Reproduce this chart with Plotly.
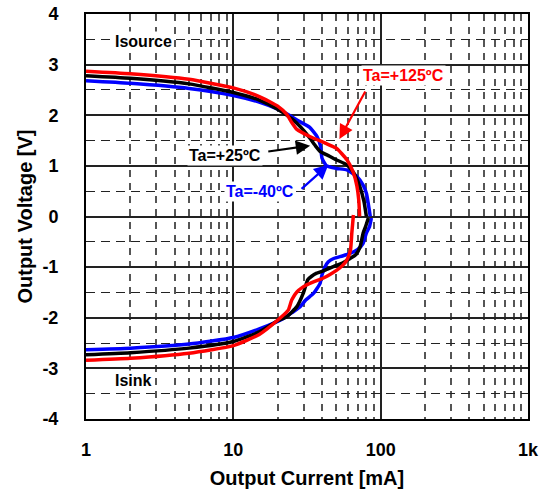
import plotly.graph_objects as go

# ---- data (Output current [mA] vs output voltage [V]) ----
src_red_i = [1, 2, 5, 10, 15, 20, 23, 25, 27, 33, 42, 50, 59, 65, 69, 71, 72]
src_red_v = [2.87, 2.82, 2.71, 2.54, 2.37, 2.18, 2.02, 1.85, 1.72, 1.58, 1.45, 1.35, 1.12, 0.88, 0.60, 0.33, 0.0]
snk_red_i = [65.3, 64.5, 63.7, 62.4, 58.9, 55, 50.4, 45, 40.6, 35, 31.5, 27, 24.9, 23.6, 20.7, 15, 10, 5, 2, 1]
snk_red_v = [0.03, -0.15, -0.33, -0.66, -0.86, -0.97, -1.06, -1.15, -1.22, -1.29, -1.35, -1.49, -1.65, -1.85, -2.01, -2.33, -2.55, -2.70, -2.80, -2.84]

src_blk_i = [1, 2, 5, 10, 15, 20, 22, 25, 27, 30, 33, 36, 39, 45, 50, 59, 66, 72, 77, 80]
src_blk_v = [2.78, 2.73, 2.62, 2.45, 2.30, 2.12, 2.04, 1.93, 1.84, 1.70, 1.55, 1.40, 1.28, 1.19, 1.12, 1.02, 0.85, 0.60, 0.30, 0.0]
snk_blk_i = [82.5, 79, 76, 72.5, 68, 62, 55, 47.7, 42, 36.8, 34, 32, 29.8, 27, 23, 20, 15, 10, 5, 2, 1]
snk_blk_v = [-0.03, -0.2, -0.33, -0.6, -0.75, -0.83, -0.92, -0.99, -1.06, -1.12, -1.18, -1.25, -1.52, -1.78, -1.98, -2.06, -2.28, -2.47, -2.60, -2.69, -2.73]

src_blu_i = [1, 2, 5, 10, 15, 20, 23, 28, 33, 37, 39, 40, 43, 50, 59, 69, 76, 80, 85]
src_blu_v = [2.68, 2.63, 2.53, 2.39, 2.26, 2.12, 2.03, 1.88, 1.76, 1.58, 1.40, 1.15, 1.0, 0.95, 0.92, 0.79, 0.62, 0.46, 0.0]
snk_blu_i = [86.5, 84, 80, 76, 70, 62, 55, 48, 44, 42, 40, 38.8, 35, 31, 28.4, 25, 22, 20, 15, 10, 5, 2, 1]
snk_blu_v = [-0.03, -0.2, -0.33, -0.53, -0.65, -0.73, -0.78, -0.83, -0.9, -0.99, -1.15, -1.32, -1.52, -1.65, -1.78, -1.9, -2.01, -2.07, -2.22, -2.39, -2.52, -2.60, -2.63]

x_tickvals = [1, 10, 100, 1000]
x_ticktext = ["1", "10", "100", "1k"]
y_tickvals = [-4, -3, -2, -1, 0, 1, 2, 3, 4]
y_ticktext = ["-4", "-3", "-2", "-1", "0", "1", "2", "3", "4"]

FONT = "Liberation Sans, Arial, sans-serif"
RED, BLK, BLU = "#FF0000", "#000000", "#0000FF"

fig = go.Figure()
series = [
    (src_blu_i, src_blu_v, BLU), (snk_blu_i, snk_blu_v, BLU),
    (src_blk_i, src_blk_v, BLK), (snk_blk_i, snk_blk_v, BLK),
    (src_red_i, src_red_v, RED), (snk_red_i, snk_red_v, RED),
]
for xi, yv, c in series:
    fig.add_trace(go.Scatter(x=xi, y=yv, mode="lines", line=dict(color=c, width=3.5, shape="spline", smoothing=0.5),
                             showlegend=False, hoverinfo="skip"))

fig.update_layout(
    width=547, height=496,
    margin=dict(l=86, r=19, t=14, b=77, autoexpand=False),
    paper_bgcolor="white", plot_bgcolor="white",
    font=dict(family=FONT, color="black", size=18, weight="bold"),
    showlegend=False,
)
fig.update_xaxes(
    type="log", range=[0, 3], automargin=False,
    tickvals=x_tickvals, ticktext=x_ticktext,
    tickfont=dict(size=18, family=FONT, weight="bold"),
    ticks="", ticklabelstandoff=13,
    showgrid=True, gridcolor="#222", gridwidth=1.5,
    minor=dict(dtick="D1", showgrid=True, gridcolor="#555", gridwidth=1.5, griddash="7px,6px", ticks=""),
    showline=True, linecolor="black", linewidth=2, mirror=True,
    title=dict(text="Output Current [mA]", font=dict(size=20, family=FONT, weight="bold"), standoff=12),
    zeroline=False,
)
fig.update_yaxes(
    range=[-4, 4], tickvals=y_tickvals, ticktext=y_ticktext, automargin=False,
    tickfont=dict(size=18, family=FONT, weight="bold"),
    ticks="", ticklabelstandoff=22,
    showgrid=True, gridcolor="#222", gridwidth=1.5,
    minor=dict(dtick=0.5, showgrid=True, gridcolor="#222", gridwidth=1, griddash="9px,6px", ticks=""),
    showline=True, linecolor="black", linewidth=2, mirror=True,
    title=dict(text="Output Voltage [V]", font=dict(size=20, family=FONT, weight="bold"), standoff=4),
    zeroline=False,
)

labels = [
    ("Isource", 0.387, 3.45, BLK),
    ("Isink", 0.319, -3.23, BLK),
    ("Ta=+125ºC", 2.152, 2.78, RED),
    ("Ta=+25ºC", 0.944, 1.21, BLK),
    ("Ta=-40ºC", 1.181, 0.50, BLU),
]
for t, x, y, c in labels:
    fig.add_annotation(x=x, y=y, xref="x", yref="y", text=t, showarrow=False,
                       font=dict(size=16, color=c, family=FONT, weight="bold"),
                       bgcolor="white", borderpad=1)

arrows = [
    (1.901, 2.50, 1.720, 1.53, RED),
    (1.227, 1.28, 1.521, 1.40, BLK),
    (1.453, 0.52, 1.645, 1.02, BLU),
]
for ax, ay, x, y, c in arrows:
    fig.add_annotation(x=x, y=y, ax=ax, ay=ay, xref="x", yref="y", axref="x", ayref="y",
                       text="", showarrow=True, arrowhead=2, arrowsize=1.3, arrowwidth=2.2, arrowcolor=c)

fig.write_html("out.html")
